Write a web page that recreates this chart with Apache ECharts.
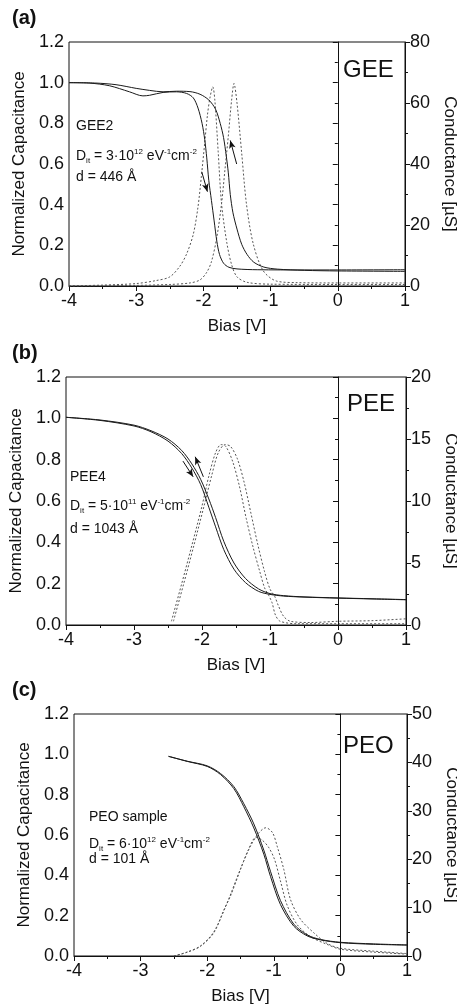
<!DOCTYPE html>
<html><head><meta charset="utf-8">
<script src="https://cdn.jsdelivr.net/npm/echarts@6/dist/echarts.min.js"></script>
<style>html,body{margin:0;padding:0;background:#fff}#c{width:457px;height:1006px}</style>
</head><body><div id="c"></div>
<script>
// ---------- data ----------
const biasTicks = [-4, -3, -2, -1, 0, 1];
const capTicks = [0.0, 0.2, 0.4, 0.6, 0.8, 1.0, 1.2];
const panelLetters = ['(a)', '(b)', '(c)'];
const sampleNames = ['GEE', 'PEE', 'PEO'];
const condMax = [80, 20, 50];
const condStep = [20, 5, 10];

// Panel (a) GEE
const geeCapDown = [[-4,1.0],[-3.7,0.998],[-3.4,0.985],[-3.1,0.955],[-2.9,0.935],[-2.8,0.938],[-2.6,0.952],[-2.4,0.955],[-2.25,0.947],[-2.15,0.925],[-2.08,0.875],[-2.02,0.80],[-1.98,0.72],[-1.95,0.63],[-1.92,0.52],[-1.88,0.42],[-1.84,0.32],[-1.80,0.22],[-1.76,0.155],[-1.70,0.112],[-1.62,0.092],[-1.5,0.084],[-1.2,0.08],[-0.5,0.079],[0,0.079],[1,0.08]];
const geeCapUp = [[-4,1.0],[-3.6,0.998],[-3.3,0.99],[-3.0,0.972],[-2.8,0.962],[-2.6,0.955],[-2.4,0.958],[-2.2,0.956],[-2.05,0.943],[-1.92,0.915],[-1.82,0.87],[-1.75,0.80],[-1.70,0.73],[-1.66,0.64],[-1.63,0.56],[-1.60,0.45],[-1.56,0.36],[-1.50,0.28],[-1.43,0.205],[-1.35,0.155],[-1.25,0.117],[-1.1,0.093],[-0.9,0.083],[-0.5,0.077],[0,0.074],[1,0.072]];
const geeCondDown = [[-4,0],[-3.5,0.3],[-3.0,0.8],[-2.7,1.8],[-2.5,3],[-2.35,6.5],[-2.25,10.5],[-2.15,17],[-2.08,26],[-2.03,36],[-1.98,47],[-1.94,56],[-1.9,62],[-1.86,65.3],[-1.83,61],[-1.78,44],[-1.73,27],[-1.65,14],[-1.58,7],[-1.5,3],[-1.35,1.2],[-1.0,0.6],[0,0.5],[1,0.5]];
const geeCondUp = [[-4,0],[-3,0.2],[-2.5,0.5],[-2.2,1],[-2.05,2],[-1.95,4.5],[-1.88,8],[-1.8,16],[-1.73,27],[-1.68,38],[-1.63,49],[-1.58,61],[-1.545,66.4],[-1.5,60],[-1.43,43.5],[-1.36,27],[-1.26,14],[-1.11,5],[-0.91,1.6],[-0.6,1.1],[0,1],[1,1]];
const geeArrowDown = [[-2.025,0.562],[-1.94,0.464]];
const geeArrowUp = [[-1.505,0.60],[-1.60,0.716]];

// Panel (b) PEE
const peeCapDown = [[-4,1.005],[-3.5,0.99],[-3,0.963],[-2.75,0.935],[-2.5,0.89],[-2.3,0.83],[-2.15,0.76],[-2.02,0.68],[-1.9,0.57],[-1.8,0.475],[-1.68,0.365],[-1.53,0.27],[-1.36,0.205],[-1.17,0.163],[-1.0,0.148],[-0.8,0.14],[-0.5,0.135],[0,0.13],[0.5,0.126],[1,0.122]];
const peeCapUp = [[-4,1.005],[-3.5,0.992],[-3,0.967],[-2.75,0.94],[-2.5,0.9],[-2.3,0.845],[-2.15,0.78],[-2.02,0.705],[-1.9,0.61],[-1.8,0.52],[-1.68,0.405],[-1.53,0.3],[-1.36,0.225],[-1.17,0.175],[-1.0,0.152],[-0.8,0.142],[-0.5,0.136],[0,0.131],[0.5,0.127],[1,0.123]];
const peeCondDown = [[-2.45,0.3],[-2.3,3.3],[-2.15,6.4],[-2.0,9.6],[-1.9,12],[-1.8,13.9],[-1.72,14.55],[-1.65,14.4],[-1.55,13.2],[-1.45,11.2],[-1.35,8.6],[-1.25,6.3],[-1.15,4.3],[-1.08,3.0],[-1.02,2.4],[-0.97,1.8],[-0.92,0.8],[-0.85,0.3],[-0.6,0.1],[0,0.1],[1,0.1]];
const peeCondUp = [[-2.42,0.3],[-2.27,3.3],[-2.12,6.4],[-1.97,9.6],[-1.86,12],[-1.76,13.9],[-1.66,14.55],[-1.58,14.4],[-1.48,13.4],[-1.38,11.5],[-1.28,9.0],[-1.18,6.5],[-1.08,4.3],[-1.0,2.9],[-0.93,2.3],[-0.88,1.6],[-0.8,0.7],[-0.7,0.3],[-0.4,0.2],[0,0.3],[0.5,0.35],[1,0.5]];
const peeArrowDown = [[-2.28,0.793],[-2.13,0.717]];
const peeArrowUp = [[-1.98,0.717],[-2.10,0.814]];

// Panel (c) PEO
const peoCapDown = [[-2.58,0.99],[-2.3,0.965],[-2.0,0.94],[-1.8,0.9],[-1.6,0.83],[-1.45,0.74],[-1.3,0.635],[-1.15,0.505],[-1.05,0.395],[-0.9,0.255],[-0.7,0.148],[-0.5,0.1],[-0.3,0.08],[0,0.066],[0.5,0.058],[1,0.054]];
const peoCapUp = [[-2.58,0.99],[-2.3,0.966],[-2.0,0.943],[-1.8,0.905],[-1.6,0.84],[-1.45,0.755],[-1.3,0.655],[-1.15,0.525],[-1.05,0.42],[-0.9,0.275],[-0.7,0.158],[-0.5,0.105],[-0.3,0.082],[0,0.068],[0.5,0.06],[1,0.055]];
const peoCondDown = [[-2.5,0],[-2.3,0.8],[-2.1,2],[-1.9,4.8],[-1.75,9.5],[-1.65,12.4],[-1.5,17.9],[-1.38,22],[-1.27,24.5],[-1.18,24],[-1.08,22.5],[-0.99,20],[-0.9,15.5],[-0.8,10.5],[-0.65,6.5],[-0.45,4],[-0.2,2.4],[0,1.4],[0.5,0.8],[1,0.4]];
const peoCondUp = [[-2.5,0],[-2.3,0.8],[-2.1,2.1],[-1.9,5],[-1.7,11],[-1.5,18],[-1.35,22.7],[-1.22,25.5],[-1.12,26.5],[-1.02,25.5],[-0.95,22.7],[-0.85,17.9],[-0.75,11.7],[-0.6,7.6],[-0.4,4.8],[-0.2,2.6],[0,1.6],[0.5,1],[1,0.5]];

const annotations = [
  ['GEE2', '3·10', '12', '446'],
  ['PEE4', '5·10', '11', '1043'],
  ['PEO sample', '6·10', '12', '101']
];

// ---------- layout ----------
const FONT = 'Liberation Sans, Arial, sans-serif';
const grids = [
  {left: 69, right: 52, top: 42, height: 244},
  {left: 66, right: 51, top: 377, height: 248},
  {left: 74, right: 50, top: 714, height: 242}
];
const capSets = [[geeCapDown, geeCapUp],[peeCapDown, peeCapUp],[peoCapDown, peoCapUp]];
const condSets = [[geeCondDown, geeCondUp],[peeCondDown, peeCondUp],[peoCondDown, peoCondUp]];
const arrowSets = [[geeArrowDown, geeArrowUp],[peeArrowDown, peeArrowUp],[]];

const chart = echarts.init(document.getElementById('c'), null, {renderer: 'canvas'});
const option = {
  animation: false,
  backgroundColor: '#fff',
  grid: [], xAxis: [], yAxis: [], series: [], graphic: []
};
const axisLine = {show: true, lineStyle: {color: '#111', width: 1}};
grids.forEach((g, i) => {
  option.grid.push(Object.assign({show: true, borderColor: '#111', borderWidth: 1, backgroundColor: '#fff',
    containLabel: false, outerBoundsMode: 'none'}, g));
  option.xAxis.push({
    gridIndex: i, type: 'value', min: biasTicks[0], max: biasTicks[biasTicks.length-1], interval: 1,
    name: 'Bias [V]', nameLocation: 'middle', nameGap: 32,
    nameTextStyle: {fontFamily: FONT, fontSize: 17, color: '#111'},
    axisLine: axisLine, axisTick: {show: true, length: 5, lineStyle: {color: '#111'}},
    minorTick: {show: true, splitNumber: 2, length: 3, lineStyle: {color: '#111'}},
    splitLine: {show: false},
    axisLabel: {fontFamily: FONT, fontSize: 18, color: '#111', margin: 6}
  });
  option.yAxis.push({
    gridIndex: i, type: 'value', min: capTicks[0], max: capTicks[capTicks.length-1], interval: 0.2,
    name: 'Normalized Capacitance', nameLocation: 'middle', nameGap: 38, nameRotate: 90,
    nameTextStyle: {fontFamily: FONT, fontSize: 17, color: '#111'},
    axisLine: axisLine, axisTick: {show: true, length: 5, lineStyle: {color: '#111'}},
    minorTick: {show: true, splitNumber: 2, length: 3, lineStyle: {color: '#111'}},
    splitLine: {show: false},
    axisLabel: {fontFamily: FONT, fontSize: 18, color: '#111', margin: 5, formatter: v => v.toFixed(1)}
  });
  option.yAxis.push({
    gridIndex: i, type: 'value', position: 'right', min: 0, max: condMax[i], interval: condStep[i],
    name: 'Conductance [µS]', nameLocation: 'middle', nameGap: 33, nameRotate: -90,
    nameTextStyle: {fontFamily: FONT, fontSize: 17, color: '#111'},
    axisLine: axisLine, axisTick: {show: true, length: 5, lineStyle: {color: '#111'}},
    minorTick: {show: true, splitNumber: 2, length: 3, lineStyle: {color: '#111'}},
    splitLine: {show: false},
    axisLabel: {fontFamily: FONT, fontSize: 18, color: '#111', margin: 5}
  });
  const yCap = i*2, yCond = i*2+1;
  capSets[i].forEach((d, k) => {
    const s = {
      type: 'line', xAxisIndex: i, yAxisIndex: yCap, data: d, showSymbol: false, symbol: 'none',
      smooth: 0.3,
      lineStyle: {color: '#1a1a1a', width: 1}, z: 3
    };
    if (k === 0) {
      const ml = [[{xAxis: 0, yAxis: capTicks[0]}, {xAxis: 0, yAxis: capTicks[capTicks.length-1]}]];
      arrowSets[i].forEach(a => ml.push([{coord: a[0]}, {coord: a[1]}]));
      s.markLine = {silent: true, symbol: ['none', 'none'], label: {show: false},
        lineStyle: {color: '#111', width: 1, type: 'solid'},
        data: ml.map((m, j) => j === 0 ? m : [Object.assign({}, m[0], {symbol: 'none'}), Object.assign({}, m[1], {symbol: 'arrow', symbolSize: [5, 8]})])
      };
    }
    option.series.push(s);
  });
  condSets[i].forEach(d => {
    option.series.push({
      type: 'line', xAxisIndex: i, yAxisIndex: yCond, data: d, showSymbol: false, symbol: 'none',
      smooth: 0.3,
      lineStyle: {color: '#555', width: 1, type: [2, 2]}, z: 2
    });
  });
  // panel letter
  option.graphic.push({type: 'text', left: 12, top: g.top - 34,
    style: {text: panelLetters[i], fontFamily: FONT, fontSize: 20, fontWeight: 'bold', fill: '#111'}});
  // sample name
  option.graphic.push({type: 'text', left: 343 + (i===1?4:0), top: g.top + (i===0?16:(i===1?15:20)),
    style: {text: sampleNames[i], fontFamily: FONT, fontSize: 24, fill: '#111'}});
  // annotations
  const ann = annotations[i];
  const ax = [76, 70, 89][i];
  const ay = [[119, 145, 170], [470, 495, 522], [810, 833, 852]][i];
  option.graphic.push({type: 'text', left: ax, top: ay[0],
    style: {text: ann[0], fontFamily: FONT, fontSize: 14, fill: '#111'}});
  option.graphic.push({type: 'text', left: ax, top: ay[1],
    style: {text: '{n|D}{sub|it}{n| = ' + ann[1] + '}{sup|' + ann[2] + '}{n| eV}{sup|-1}{n|cm}{sup|-2}',
      rich: {
        n: {fontFamily: FONT, fontSize: 14, fill: '#111', lineHeight: 22, verticalAlign: 'middle'},
        sub: {fontFamily: FONT, fontSize: 8, fill: '#111', lineHeight: 22, verticalAlign: 'bottom', padding: [0,0,2,0]},
        sup: {fontFamily: FONT, fontSize: 8, fill: '#111', lineHeight: 22, verticalAlign: 'top', padding: [3,0,0,0]}
      }}});
  option.graphic.push({type: 'text', left: ax, top: ay[2],
    style: {text: 'd = ' + ann[3] + ' Å', fontFamily: FONT, fontSize: 14, fill: '#111'}});
});
chart.setOption(option);
</script></body></html>
